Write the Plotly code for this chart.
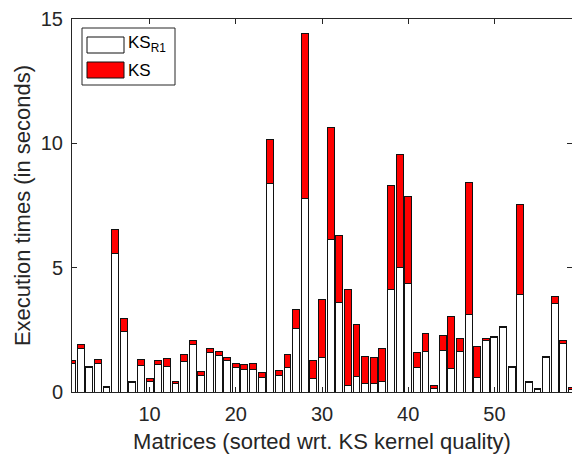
import plotly.graph_objects as go

# Execution time per matrix, split into the two kernel parts (seconds)
matrix_index = list(range(1, 60))
ks_r1 = [1.13, 1.73, 1.00, 1.14, 0.19, 5.59, 2.42, 0.37, 1.06, 0.41,
         1.09, 1.02, 0.33, 1.24, 1.92, 0.67, 1.60, 1.48, 1.26, 1.00,
         0.90, 0.92, 0.59, 8.37, 0.66, 0.98, 2.55, 7.77, 0.55, 1.39,
         6.14, 3.61, 0.28, 0.64, 0.36, 0.34, 0.43, 4.13, 5.02, 4.36,
         1.00, 1.61, 0.13, 1.68, 0.94, 1.61, 3.11, 0.60, 2.08, 2.20,
         2.58, 1.00, 3.94, 0.38, 0.11, 1.37, 3.54, 1.94, 0.12]
ks = [0.15, 0.18, 0.04, 0.16, 0.04, 0.96, 0.54, 0.04, 0.24, 0.12,
      0.17, 0.31, 0.08, 0.28, 0.16, 0.16, 0.13, 0.13, 0.13, 0.13,
      0.20, 0.22, 0.21, 1.80, 0.20, 0.53, 0.75, 6.64, 0.71, 2.34,
      4.49, 2.70, 3.85, 2.08, 1.05, 1.05, 1.33, 4.18, 4.54, 3.50,
      0.60, 0.73, 0.12, 0.60, 2.08, 0.54, 5.30, 1.25, 0.06, 0.04,
      0.06, 0.04, 3.62, 0.04, 0.03, 0.07, 0.29, 0.12, 0.05]

x_ticks = [10, 20, 30, 40, 50]
y_ticks = [0, 5, 10, 15]

FONT = "Liberation Sans, Arial, Helvetica, sans-serif"
INK = "#262626"
EDGE = "#111111"
W, H = 572, 457
ML, MR, MT, MB = 72, 0, 19, 65

fig = go.Figure()
fig.add_trace(go.Bar(x=matrix_index, y=ks_r1, name="KS<sub>R1</sub>",
                     marker=dict(color="white", line=dict(color=EDGE, width=1)),
                     showlegend=False))
fig.add_trace(go.Bar(x=matrix_index, y=ks, name="KS",
                     marker=dict(color="#ff0000", line=dict(color=EDGE, width=1)),
                     showlegend=False))

# legend drawn as a framed box with large swatches
pw, ph = W - ML - MR, H - MT - MB
def px(x):
    return (x - ML) / pw
def py(y):
    return (H - MB - y) / ph

shapes = [
    dict(type="rect", xref="paper", yref="paper",
         x0=px(82), x1=px(175), y0=py(85), y1=py(28),
         line=dict(color=INK, width=1), fillcolor="white", layer="above"),
    dict(type="rect", xref="paper", yref="paper",
         x0=px(87), x1=px(124), y0=py(53), y1=py(37),
         line=dict(color=EDGE, width=1), fillcolor="white", layer="above"),
    dict(type="rect", xref="paper", yref="paper",
         x0=px(87), x1=px(124), y0=py(78), y1=py(62),
         line=dict(color=EDGE, width=1), fillcolor="#ff0000", layer="above"),
]
annotations = [
    dict(xref="paper", yref="paper", x=px(126), y=py(44), xanchor="left",
         yanchor="middle", showarrow=False, text="KS<sub>R1</sub>",
         font=dict(family=FONT, size=17, color="black")),
    dict(xref="paper", yref="paper", x=px(126), y=py(70), xanchor="left",
         yanchor="middle", showarrow=False, text="KS",
         font=dict(family=FONT, size=17, color="black")),
]

fig.update_layout(
    width=W, height=H,
    margin=dict(l=ML, r=MR, t=MT, b=MB, pad=0),
    paper_bgcolor="white", plot_bgcolor="white",
    barmode="stack", bargap=0.2,
    font=dict(family=FONT, color=INK, size=20),
    shapes=shapes, annotations=annotations,
    xaxis=dict(range=[1, 59], tickvals=x_ticks, ticks="inside", ticklen=5,
               tickcolor=INK, showline=True, linecolor=INK, linewidth=1,
               mirror="ticks", showgrid=False, zeroline=False,
               tickfont=dict(size=20), automargin=False, ticklabelstandoff=4,
               title=dict(text="Matrices (sorted wrt. KS kernel quality)",
                          font=dict(size=22), standoff=9)),
    yaxis=dict(range=[0, 15], tickvals=y_ticks, ticks="inside", ticklen=5,
               tickcolor=INK, showline=True, linecolor=INK, linewidth=1,
               mirror="ticks", showgrid=False, zeroline=False,
               tickfont=dict(size=20), automargin=False, ticklabelstandoff=4,
               title=dict(text="Execution times (in seconds)",
                          font=dict(size=22), standoff=4)),
)

fig.write_html("out.html")
